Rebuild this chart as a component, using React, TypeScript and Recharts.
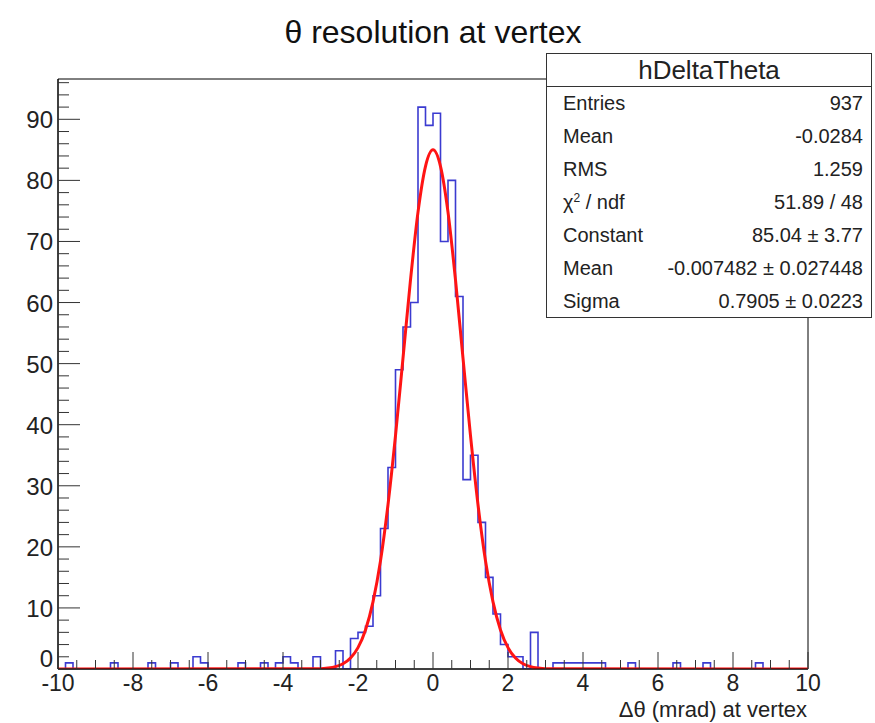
import React from "react";
import { ComposedChart, Line, XAxis, YAxis, ReferenceArea } from "recharts";

const FONT = "'Liberation Sans', Arial, Helvetica, sans-serif";

// histogram: 100 bins of 0.2 from -10 to 10
const X_MIN = -10;
const BIN_W = 0.2;
const BIN_COUNTS = [
  0, 1, 0, 0, 0, 0, 0, 1, 0, 0,
  0, 0, 1, 0, 0, 1, 0, 0, 2, 1,
  0, 0, 0, 0, 1, 0, 0, 1, 0, 1,
  2, 1, 0, 0, 2, 0, 0, 3, 0, 5,
  6, 7, 12, 23, 33, 49, 56, 60, 92, 89,
  91, 70, 80, 61, 31, 35, 24, 15, 9, 4,
  2, 2, 0, 6, 0, 0, 1, 1, 1, 1,
  1, 1, 1, 0, 0, 0, 1, 0, 0, 0,
  0, 0, 1, 0, 0, 0, 1, 0, 0, 0,
  0, 0, 0, 1, 0, 0, 0, 0, 0, 0,
];

// gaussian fit curve
const FIT_X = [-10, -3, -2.8, -2.6, -2.4, -2.2, -2, -1.8, -1.6, -1.4, -1.2, -1, -0.8, -0.6, -0.4, -0.2, 0,
  0.2, 0.4, 0.6, 0.8, 1, 1.2, 1.4, 1.6, 1.8, 2, 2.2, 2.4, 2.6, 2.8, 3, 10];
const FIT_Y = [0, 0.06, 0.16, 0.38, 0.85, 1.8, 3.5, 6.4, 11.0, 17.7, 26.9, 38.2, 50.9, 63.7, 74.8, 82.3, 85.0,
  82.3, 74.8, 63.7, 50.9, 38.2, 26.9, 17.7, 11.0, 6.4, 3.5, 1.8, 0.85, 0.38, 0.16, 0.06, 0];

const Y_MAX = 96.6;
const X_TICKS = Array.from({ length: 41 }, (_, i) => -10 + i * 0.5);
const Y_TICKS = Array.from({ length: 49 }, (_, i) => i * 2);

const STATS_TITLE = "hDeltaTheta";
const STATS_ROWS: [React.ReactNode, string][] = [
  ["Entries", "937"],
  ["Mean", "-0.0284"],
  ["RMS", "1.259"],
  [<span>χ<sup style={{ fontSize: "0.6em", lineHeight: 0, verticalAlign: "0.6em" }}>2</sup> / ndf</span>, "51.89 / 48"],
  ["Constant", "85.04 ± 3.77"],
  ["Mean", "-0.007482 ± 0.027448"],
  ["Sigma", "0.7905 ± 0.0223"],
];

const histData = BIN_COUNTS.map((c, i) => ({ x: X_MIN + i * BIN_W, count: c }));
histData.push({ x: X_MIN + BIN_COUNTS.length * BIN_W, count: BIN_COUNTS[BIN_COUNTS.length - 1] });
const fitData = FIT_X.map((x, i) => ({ x, fit: FIT_Y[i] }));

function XTick(props: any) {
  const { x, y, payload } = props;
  const major = Math.abs(payload.value / 2 - Math.round(payload.value / 2)) < 1e-6;
  return (
    <g>
      <line x1={x} x2={x} y1={y} y2={y - (major ? 17 : 9)} stroke="#333" strokeWidth={1} />
      {major && (
        <text x={x} y={y + 22} textAnchor="middle" fontSize={23} fontFamily={FONT} fill="#222">
          {payload.value}
        </text>
      )}
    </g>
  );
}

function YTick(props: any) {
  const { x, y, payload } = props;
  const major = payload.value % 10 === 0;
  return (
    <g>
      <line x1={x} x2={x + (major ? 22 : 11)} y1={y} y2={y} stroke="#333" strokeWidth={1} />
      {major && (
        <text x={x - 5} y={y + (payload.value === 0 ? -2 : 9)} textAnchor="end" fontSize={24} fontFamily={FONT} fill="#222">
          {payload.value}
        </text>
      )}
    </g>
  );
}

export default function App() {
  return (
    <div style={{ position: "absolute", left: 0, top: 0, width: 875, height: 723, background: "#fff", fontFamily: FONT }}>
      <div style={{ position: "absolute", left: 58, width: 750, top: 12, textAlign: "center", fontSize: 32, color: "#111", lineHeight: "40px" }}>
        θ resolution at vertex
      </div>
      <ComposedChart width={875} height={723} margin={{ top: 79, right: 67, left: 0, bottom: 0 }}>
        <XAxis
          type="number"
          dataKey="x"
          domain={[-10, 10]}
          ticks={X_TICKS}
          interval={0}
          allowDataOverflow
          height={54}
          tickSize={0}
          tickMargin={0}
          tickLine={false}
          axisLine={{ stroke: "#000" }}
          tick={<XTick />}
        />
        <YAxis
          type="number"
          domain={[0, Y_MAX]}
          ticks={Y_TICKS}
          interval={0}
          allowDataOverflow
          width={58}
          tickSize={0}
          tickMargin={0}
          tickLine={false}
          axisLine={{ stroke: "#000" }}
          tick={<YTick />}
        />
        <ReferenceArea x1={-10} x2={10} y1={0} y2={Y_MAX} fill="none" stroke="#000" strokeWidth={1} ifOverflow="visible" />
        <Line
          data={histData}
          dataKey="count"
          type="stepAfter"
          stroke="#3b3bd0"
          strokeWidth={1.6}
          dot={false}
          isAnimationActive={false}
        />
        <Line
          data={fitData}
          dataKey="fit"
          type="monotone"
          stroke="#ff1414"
          strokeWidth={3}
          dot={false}
          isAnimationActive={false}
        />
      </ComposedChart>
      <div style={{ position: "absolute", right: 68, top: 698, fontSize: 22, lineHeight: "24px", color: "#222", whiteSpace: "nowrap" }}>
        Δθ (mrad) at vertex
      </div>
      <div
        style={{
          position: "absolute",
          left: 546,
          top: 53,
          width: 326,
          height: 265,
          border: "1px solid #333",
          background: "#fff",
          boxSizing: "border-box",
          color: "#222",
        }}
      >
        <div style={{ height: 32, borderBottom: "1px solid #333", textAlign: "center", fontSize: 26, lineHeight: "32px" }}>
          {STATS_TITLE}
        </div>
        {STATS_ROWS.map(([k, v], i) => (
          <div
            key={i}
            style={{ display: "flex", justifyContent: "space-between", padding: "0 8px 0 16px", height: 33, lineHeight: "33px", fontSize: 20 }}
          >
            <span>{k}</span>
            <span>{v}</span>
          </div>
        ))}
      </div>
    </div>
  );
}
